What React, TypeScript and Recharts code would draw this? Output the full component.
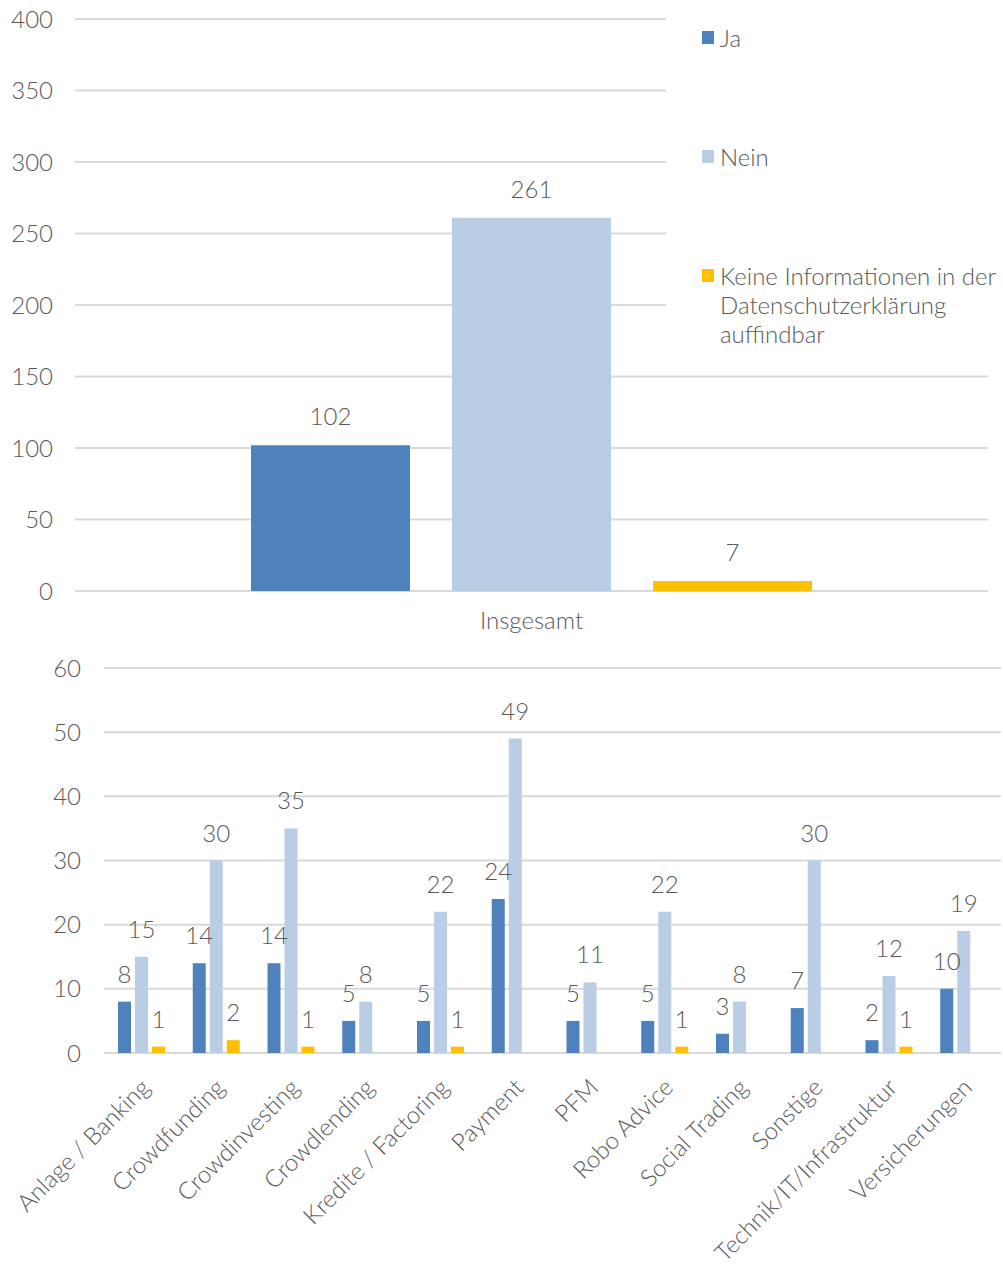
import React from 'react';
import { BarChart, Bar, XAxis, YAxis, CartesianGrid, LabelList, Legend } from 'recharts';

const TOTAL_CATEGORIES = ['Insgesamt'];
const TOTAL_JA = [102];
const TOTAL_NEIN = [261];
const TOTAL_KEINE = [7];

const SEGMENTS = [
  'Anlage / Banking',
  'Crowdfunding',
  'Crowdinvesting',
  'Crowdlending',
  'Kredite / Factoring',
  'Payment',
  'PFM',
  'Robo Advice',
  'Social Trading',
  'Sonstige',
  'Technik/IT/Infrastruktur',
  'Versicherungen',
];
const SEG_JA = [8, 14, 14, 5, 5, 24, 5, 5, 3, 7, 2, 10];
const SEG_NEIN = [15, 30, 35, 8, 22, 49, 11, 22, 8, 30, 12, 19];
const SEG_KEINE = [1, 2, 1, 0, 1, 0, 0, 1, 0, 0, 1, 0];

const TOP_TICKS = [0, 50, 100, 150, 200, 250, 300, 350, 400];
const BOTTOM_TICKS = [0, 10, 20, 30, 40, 50, 60];

const SERIES_NAMES = ['Ja', 'Nein', 'Keine Informationen in der Datenschutzerklärung auffindbar'];
const COLORS = ['#4F81BD', '#B9CDE5', '#FFC000'];

const FONT = 'Lato, "Open Sans", sans-serif';
const FS = 24;
const TEXT = '#595959';
const GRID = '#D9D9D9';

const topData = TOTAL_CATEGORIES.map((c, i) => ({
  name: c,
  ja: TOTAL_JA[i],
  nein: TOTAL_NEIN[i],
  keine: TOTAL_KEINE[i],
}));

const bottomData = SEGMENTS.map((c, i) => ({
  name: c,
  ja: SEG_JA[i],
  nein: SEG_NEIN[i],
  keine: SEG_KEINE[i],
}));

const hideZero = (v: any) => (v ? v : '');

const tickStyle = { fill: TEXT, fontSize: FS, fontFamily: FONT, fontWeight: 300 };
const labelStyle = { fill: TEXT, fontSize: FS, fontFamily: FONT, fontWeight: 300 };

const RotTick = (props: any) => {
  const { x, y, payload } = props;
  const tx = x + 10;
  const ty = y + 36;
  return (
    <text
      x={tx}
      y={ty}
      transform={`rotate(-45 ${tx} ${ty})`}
      textAnchor="end"
      fill={TEXT}
      fontSize={FS}
      fontFamily={FONT}
      fontWeight={300}
    >
      {payload.value}
    </text>
  );
};

const LegendContent = () => {
  const items = [
    { top: 23, name: SERIES_NAMES[0], color: COLORS[0] },
    { top: 142, name: SERIES_NAMES[1], color: COLORS[1] },
    { top: 261, name: SERIES_NAMES[2], color: COLORS[2] },
  ];
  return (
    <div style={{ position: 'relative', width: 337, height: 355, background: '#fff' }}>
      {items.map((it) => (
        <div key={it.name} style={{ position: 'absolute', left: 0, top: it.top, width: 337 }}>
          <div
            style={{
              position: 'absolute',
              left: 36,
              top: 8,
              width: 12,
              height: 13,
              background: it.color,
            }}
          />
          <div
            style={{
              position: 'absolute',
              left: 54,
              top: 0,
              width: 283,
              fontFamily: FONT,
              fontWeight: 300,
              fontSize: FS,
              lineHeight: '29px',
              color: TEXT,
            }}
          >
            {it.name}
          </div>
        </div>
      ))}
    </div>
  );
};

export default function App() {
  return (
    <div style={{ position: 'absolute', left: 0, top: 0, width: 1003, height: 1266, background: '#fff' }}>
      <BarChart
        width={1003}
        height={640}
        data={topData}
        margin={{ top: 19, right: 15, left: 0, bottom: 9 }}
        barGap={42}
        barSize={159}
      >
        <CartesianGrid vertical={false} stroke={GRID} strokeWidth={2} />
        <XAxis
          dataKey="name"
          axisLine={false}
          tickLine={false}
          tickSize={0}
          tickMargin={21}
          height={40}
          tick={tickStyle}
        />
        <YAxis
          domain={[0, 400]}
          ticks={TOP_TICKS}
          axisLine={false}
          tickLine={false}
          tickSize={0}
          tickMargin={22}
          width={75}
          tick={tickStyle}
        />
        <Legend
          layout="horizontal"
          align="center"
          verticalAlign="middle"
          content={<LegendContent />}
          wrapperStyle={{ position: 'absolute', left: 666, top: 0, width: 337, height: 355 }}
        />
        <Bar dataKey="ja" name={SERIES_NAMES[0]} fill={COLORS[0]} isAnimationActive={false}>
          <LabelList dataKey="ja" position="top" offset={20} style={labelStyle} formatter={hideZero} />
        </Bar>
        <Bar dataKey="nein" name={SERIES_NAMES[1]} fill={COLORS[1]} isAnimationActive={false}>
          <LabelList dataKey="nein" position="top" offset={20} style={labelStyle} formatter={hideZero} />
        </Bar>
        <Bar dataKey="keine" name={SERIES_NAMES[2]} fill={COLORS[2]} isAnimationActive={false}>
          <LabelList dataKey="keine" position="top" offset={20} style={labelStyle} formatter={hideZero} />
        </Bar>
      </BarChart>
      <BarChart
        width={1003}
        height={626}
        data={bottomData}
        margin={{ top: 28, right: 2, left: 0, bottom: 13 }}
        barGap={4}
        barSize={13}
      >
        <CartesianGrid vertical={false} stroke={GRID} strokeWidth={2} />
        <XAxis
          dataKey="name"
          axisLine={false}
          tickLine={false}
          tickSize={0}
          tickMargin={0}
          height={200}
          interval={0}
          tick={<RotTick />}
        />
        <YAxis
          domain={[0, 60]}
          ticks={BOTTOM_TICKS}
          axisLine={false}
          tickLine={false}
          tickSize={0}
          tickMargin={23}
          width={104}
          tick={tickStyle}
        />
        <Bar dataKey="ja" name={SERIES_NAMES[0]} fill={COLORS[0]} isAnimationActive={false}>
          <LabelList dataKey="ja" position="top" offset={19} style={labelStyle} formatter={hideZero} />
        </Bar>
        <Bar dataKey="nein" name={SERIES_NAMES[1]} fill={COLORS[1]} isAnimationActive={false}>
          <LabelList dataKey="nein" position="top" offset={19} style={labelStyle} formatter={hideZero} />
        </Bar>
        <Bar dataKey="keine" name={SERIES_NAMES[2]} fill={COLORS[2]} isAnimationActive={false}>
          <LabelList dataKey="keine" position="top" offset={19} style={labelStyle} formatter={hideZero} />
        </Bar>
      </BarChart>
    </div>
  );
}
